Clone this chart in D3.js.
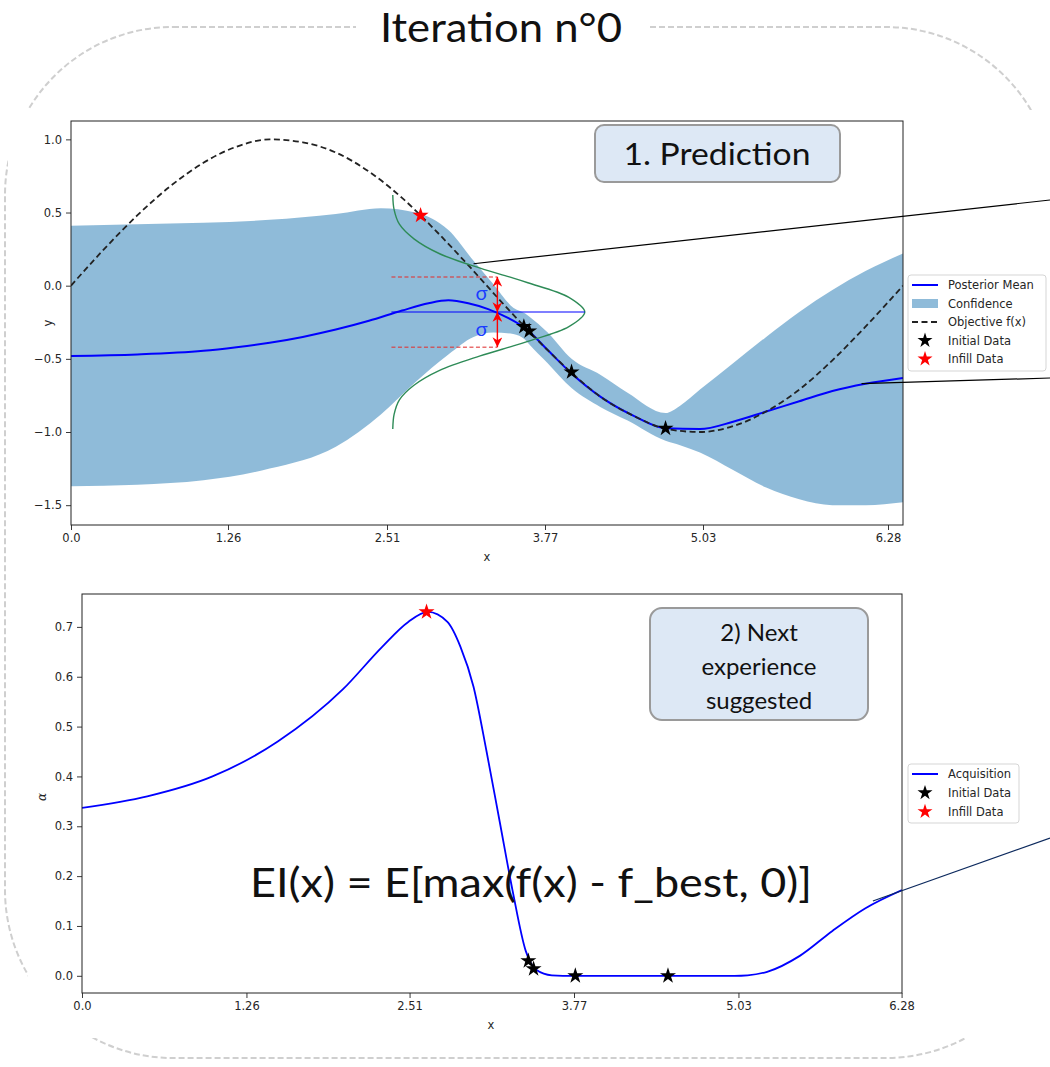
<!DOCTYPE html>
<html><head><meta charset="utf-8">
<script src="https://cdn.jsdelivr.net/npm/d3@7"></script>
<style>body{margin:0;background:#fff} svg{display:block}</style>
</head><body>
<svg id="c" width="1050" height="1067"></svg>
<script>
// ---------- data ----------
const xTicks = [0, 1.26, 2.51, 3.77, 5.03, 6.28];
const topTickPos = [71, 228, 387, 545, 703, 888]; // where the top plot's tick labels sit in the picture
const topYTicks = [1.0, 0.5, 0.0, -0.5, -1.0, -1.5];
const botYTicks = [0, 0.1, 0.2, 0.3, 0.4, 0.5, 0.6, 0.7];

const objX = [0, 0.25, 0.5, 0.75, 1.0, 1.25, 1.5, 1.75, 2.0, 2.25, 2.5, 2.75, 3.0, 3.25, 3.5, 3.75, 4.0, 4.25, 4.5, 4.75, 5.0, 5.25, 5.5, 5.75, 6.0, 6.283];
const objY = [0, 0.25, 0.48, 0.68, 0.84, 0.95, 1.0, 0.98, 0.91, 0.78, 0.60, 0.38, 0.14, -0.11, -0.35, -0.57, -0.76, -0.89, -0.98, -1.0, -0.96, -0.86, -0.71, -0.51, -0.28, 0.0];

const meanX = [0, 0.5, 1.0, 1.25, 1.5, 1.75, 2.0, 2.25, 2.5, 2.7, 2.85, 3.0, 3.15, 3.3, 3.43, 3.6, 3.78, 4.0, 4.25, 4.49, 4.75, 5.0, 5.25, 5.5, 5.75, 6.0, 6.283];
const meanY = [-0.48, -0.47, -0.445, -0.42, -0.39, -0.35, -0.30, -0.24, -0.17, -0.12, -0.10, -0.12, -0.16, -0.22, -0.29, -0.44, -0.60, -0.76, -0.89, -0.975, -0.98, -0.93, -0.86, -0.79, -0.72, -0.67, -0.63];

const bandX = [0, 0.5, 1.0, 1.5, 2.0, 2.34, 2.6, 2.85, 3.04, 3.19, 3.34, 3.43, 3.46, 3.6, 3.78, 4.0, 4.2, 4.49, 4.6, 4.75, 5.0, 5.25, 5.5, 5.75, 6.0, 6.283];
const bandUpper = [0.41, 0.42, 0.43, 0.45, 0.49, 0.53, 0.50, 0.38, 0.17, 0.01, -0.15, -0.19, -0.21, -0.32, -0.50, -0.61, -0.73, -0.87, -0.82, -0.71, -0.53, -0.35, -0.18, -0.03, 0.10, 0.22];
const bandLower = [-1.37, -1.36, -1.33, -1.25, -1.10, -0.88, -0.66, -0.47, -0.35, -0.32, -0.33, -0.37, -0.40, -0.53, -0.70, -0.83, -0.92, -1.06, -1.09, -1.14, -1.26, -1.38, -1.46, -1.50, -1.50, -1.48];

const initX = [3.42, 3.46, 3.78, 4.49];
const initY = [-0.28, -0.31, -0.59, -0.975];
const infillX = [2.64];
const infillY = [0.48];

const acqX = [0, 0.5, 1.0, 1.5, 2.0, 2.3, 2.5, 2.65, 2.8, 2.9, 3.0, 3.1, 3.2, 3.3, 3.4, 3.48, 3.6, 3.77, 4.5, 5.0, 5.1, 5.25, 5.5, 5.75, 6.0, 6.283];
const acqY = [0.337, 0.36, 0.40, 0.47, 0.575, 0.66, 0.71, 0.73, 0.71, 0.66, 0.58, 0.45, 0.31, 0.17, 0.05, 0.012, 0.001, 0, 0, 0, 0.001, 0.008, 0.04, 0.09, 0.135, 0.172];
const acqInitY = [0.03, 0.014, 0, 0];
const acqInfillY = [0.73];

// illustrated predictive distribution at one x
const gaussY = [0.62, 0.52, 0.42, 0.32, 0.22, 0.12, 0.06, 0.02, -0.08, -0.18, -0.28, -0.38, -0.42, -0.48, -0.58, -0.68, -0.78, -0.88, -0.98];
const gaussX = [2.43, 2.44, 2.48, 2.59, 2.78, 3.09, 3.31, 3.45, 3.76, 3.88, 3.76, 3.45, 3.31, 3.09, 2.78, 2.59, 2.48, 2.44, 2.43];
const sigmaMarks = {x0: 2.42, xArrow: 3.22, xEnd: 3.88, mean: -0.18, up: 0.06, down: -0.42};

const topLegend = ["Posterior Mean", "Confidence", "Objective f(x)", "Initial Data", "Infill Data"];
const botLegend = ["Acquisition", "Initial Data", "Infill Data"];

// ---------- drawing ----------
const svg = d3.select("#c");
const defs = svg.append("defs");
const FONT = "DejaVu Sans, sans-serif";
const CAL = "Lato, 'Open Sans', sans-serif";

// dashed rounded frame
svg.append("rect").attr("x", 5).attr("y", 27).attr("width", 1049).attr("height", 1031)
  .attr("rx", 168).attr("ry", 168).attr("fill", "none")
  .attr("stroke", "#cfcfcf").attr("stroke-width", 2).attr("stroke-dasharray", "6,3");
svg.append("rect").attr("x", 356).attr("y", 18).attr("width", 292).attr("height", 18).attr("fill", "#fff");
// plot "images" backgrounds
svg.append("rect").attr("x", 8).attr("y", 110).attr("width", 1042).attr("height", 466).attr("fill", "#fff");
svg.append("rect").attr("x", 28).attr("y", 580).attr("width", 1022).attr("height", 458).attr("fill", "#fff");

svg.append("text").attr("x", 501).attr("y", 42).attr("text-anchor", "middle")
  .attr("font-family", CAL).attr("font-size", 40).attr("fill", "#111")
  .attr("textLength", 242).attr("lengthAdjust", "spacingAndGlyphs").text("Iteration n°0");

function fmtY(d) { return (d < 0 ? "\u2212" : "") + Math.abs(d).toFixed(1); }
function fmtX(d) { return d === 0 ? "0.0" : String(d); }

function styleAxis(g) {
  g.select(".domain").remove();
  g.selectAll(".tick line").attr("stroke", "#222").attr("stroke-width", 0.9);
  g.selectAll(".tick text").attr("font-family", FONT).attr("font-size", 11.5).attr("fill", "#262626");
}

// ----- TOP PLOT -----
const xT = d3.scaleLinear().domain([0, 2 * Math.PI]).range([71, 903]);
const xTickT = d3.scaleLinear().domain(xTicks).range(topTickPos);
const yT = d3.scaleLinear().domain([-1.6355, 1.1255]).range([525, 121]);
defs.append("clipPath").attr("id", "clipT").append("rect")
  .attr("x", 71).attr("y", 121).attr("width", 832).attr("height", 404);

const gT = svg.append("g");
const plotT = gT.append("g").attr("clip-path", "url(#clipT)");

const area = d3.area().x((d, i) => xT(bandX[i])).y0((d, i) => yT(bandLower[i])).y1((d, i) => yT(bandUpper[i])).curve(d3.curveMonotoneX);
plotT.append("path").datum(bandX).attr("d", area).attr("fill", "#1f77b4").attr("fill-opacity", 0.5);

const lineMean = d3.line().x((d, i) => xT(meanX[i])).y((d, i) => yT(meanY[i])).curve(d3.curveMonotoneX);
plotT.append("path").datum(meanX).attr("d", lineMean).attr("fill", "none").attr("stroke", "#0000ff").attr("stroke-width", 2);

const lineObj = d3.line().x((d, i) => xT(objX[i])).y((d, i) => yT(objY[i])).curve(d3.curveMonotoneX);
plotT.append("path").datum(objX).attr("d", lineObj).attr("fill", "none").attr("stroke", "#222")
  .attr("stroke-width", 1.8).attr("stroke-dasharray", "6,3.5");

// predictive distribution illustration
const lineG = d3.line().x((d, i) => xT(gaussX[i])).y((d, i) => yT(gaussY[i])).curve(d3.curveCatmullRom);
plotT.append("path").datum(gaussX).attr("d", lineG).attr("fill", "none").attr("stroke", "#2e8b57").attr("stroke-width", 1.4);
plotT.append("line").attr("x1", xT(sigmaMarks.x0)).attr("x2", xT(sigmaMarks.xEnd))
  .attr("y1", yT(sigmaMarks.mean)).attr("y2", yT(sigmaMarks.mean))
  .attr("stroke", "#0000ff").attr("stroke-opacity", 0.5).attr("stroke-width", 2);
[sigmaMarks.up, sigmaMarks.down].forEach(v => {
  plotT.append("line").attr("x1", xT(sigmaMarks.x0)).attr("x2", xT(sigmaMarks.xArrow))
    .attr("y1", yT(v)).attr("y2", yT(v)).attr("stroke", "#e03030").attr("stroke-opacity", 0.7)
    .attr("stroke-width", 1.5).attr("stroke-dasharray", "4,2.5");
});
defs.append("marker").attr("id", "arr").attr("viewBox", "0 0 10 10").attr("refX", 10).attr("refY", 5)
  .attr("markerWidth", 7).attr("markerHeight", 7).attr("orient", "auto-start-reverse")
  .append("path").attr("d", "M0,0 L10,5 L0,10 L3,5 z").attr("fill", "red");
[[sigmaMarks.mean, sigmaMarks.up], [sigmaMarks.mean, sigmaMarks.down]].forEach(([a, b]) => {
  plotT.append("line").attr("x1", xT(sigmaMarks.xArrow)).attr("x2", xT(sigmaMarks.xArrow))
    .attr("y1", yT(a)).attr("y2", yT(b)).attr("stroke", "red").attr("stroke-width", 1.4)
    .attr("marker-start", "url(#arr)").attr("marker-end", "url(#arr)");
});
[(sigmaMarks.mean + sigmaMarks.up) / 2, (sigmaMarks.mean + sigmaMarks.down) / 2].forEach(v => {
  plotT.append("text").attr("x", xT(sigmaMarks.xArrow) - 16).attr("y", yT(v) + 6)
    .attr("text-anchor", "middle").attr("font-family", CAL).attr("font-size", 20).attr("fill", "#1a3cff").text("σ");
});

const star = d3.symbol().type(d3.symbolStar).size(80);
initX.forEach((x, i) => {
  plotT.append("path").attr("d", star).attr("transform", `translate(${xT(x)},${yT(initY[i])})`).attr("fill", "#000");
});
infillX.forEach((x, i) => {
  plotT.append("path").attr("d", star).attr("transform", `translate(${xT(x)},${yT(infillY[i])})`).attr("fill", "#ff0000");
});

gT.append("rect").attr("x", 71).attr("y", 121).attr("width", 832).attr("height", 404)
  .attr("fill", "none").attr("stroke", "#222").attr("stroke-width", 1);
gT.append("g").attr("transform", "translate(0,525)")
  .call(d3.axisBottom(xTickT).tickValues(xTicks).tickFormat(fmtX).tickSize(5).tickPadding(4)).call(styleAxis);
gT.append("g").attr("transform", "translate(71,0)")
  .call(d3.axisLeft(yT).tickValues(topYTicks).tickFormat(fmtY).tickSize(5).tickPadding(4)).call(styleAxis);
gT.append("text").attr("x", 487).attr("y", 561).attr("text-anchor", "middle").attr("font-family", FONT).attr("font-size", 11.5).attr("fill", "#262626").text("x");
gT.append("text").attr("transform", "translate(52,323) rotate(-90)").attr("text-anchor", "middle").attr("font-family", FONT).attr("font-size", 11.5).attr("fill", "#262626").text("y");

// top legend
const lgT = svg.append("g").attr("transform", "translate(908,275)");
lgT.append("rect").attr("width", 138).attr("height", 96).attr("rx", 3).attr("fill", "#fff").attr("stroke", "#d5d5d5");
const starL = d3.symbol().type(d3.symbolStar).size(70);
topLegend.forEach((t, i) => {
  const y = 10 + i * 18.5;
  if (i === 0) lgT.append("line").attr("x1", 4).attr("x2", 30).attr("y1", y).attr("y2", y).attr("stroke", "#0000ff").attr("stroke-width", 2);
  if (i === 1) lgT.append("rect").attr("x", 4).attr("y", y - 4.5).attr("width", 26).attr("height", 9).attr("fill", "#1f77b4").attr("fill-opacity", 0.5);
  if (i === 2) lgT.append("line").attr("x1", 4).attr("x2", 30).attr("y1", y).attr("y2", y).attr("stroke", "#222").attr("stroke-width", 1.8).attr("stroke-dasharray", "6,3.5");
  if (i === 3) lgT.append("path").attr("d", starL).attr("transform", `translate(17,${y})`).attr("fill", "#000");
  if (i === 4) lgT.append("path").attr("d", starL).attr("transform", `translate(17,${y})`).attr("fill", "#ff0000");
  lgT.append("text").attr("x", 40).attr("y", y + 4).attr("font-family", FONT).attr("font-size", 11.5).attr("fill", "#262626").text(t);
});

// "1. Prediction" callout
svg.append("rect").attr("x", 595).attr("y", 125).attr("width", 245).attr("height", 57).attr("rx", 9)
  .attr("fill", "#dde8f5").attr("stroke", "#9a9a9a").attr("stroke-width", 2);
svg.append("text").attr("x", 717).attr("y", 165).attr("text-anchor", "middle").attr("font-family", CAL)
  .attr("font-size", 30).attr("fill", "#111").attr("textLength", 187).attr("lengthAdjust", "spacingAndGlyphs").text("1. Prediction");

// ----- BOTTOM PLOT -----
const xB = d3.scaleLinear().domain([0, 2 * Math.PI]).range([82, 902]);
const yB = d3.scaleLinear().domain([-0.0345, 0.766]).range([993, 594]);
defs.append("clipPath").attr("id", "clipB").append("rect")
  .attr("x", 82).attr("y", 594).attr("width", 820).attr("height", 399);
const gB = svg.append("g");
const plotB = gB.append("g").attr("clip-path", "url(#clipB)");
const lineAcq = d3.line().x((d, i) => xB(acqX[i])).y((d, i) => yB(acqY[i])).curve(d3.curveMonotoneX);
plotB.append("path").datum(acqX).attr("d", lineAcq).attr("fill", "none").attr("stroke", "#0000ff").attr("stroke-width", 1.8);
initX.forEach((x, i) => {
  plotB.append("path").attr("d", star).attr("transform", `translate(${xB(x)},${yB(acqInitY[i])})`).attr("fill", "#000");
});
infillX.forEach((x, i) => {
  plotB.append("path").attr("d", star).attr("transform", `translate(${xB(x)},${yB(acqInfillY[i])})`).attr("fill", "#ff0000");
});
gB.append("rect").attr("x", 82).attr("y", 594).attr("width", 820).attr("height", 399)
  .attr("fill", "none").attr("stroke", "#222").attr("stroke-width", 1);
gB.append("g").attr("transform", "translate(0,993)")
  .call(d3.axisBottom(xB).tickValues(xTicks).tickFormat(fmtX).tickSize(5).tickPadding(4)).call(styleAxis);
gB.append("g").attr("transform", "translate(82,0)")
  .call(d3.axisLeft(yB).tickValues(botYTicks).tickFormat(d => d.toFixed(1)).tickSize(5).tickPadding(4)).call(styleAxis);
gB.append("text").attr("x", 491).attr("y", 1029).attr("text-anchor", "middle").attr("font-family", FONT).attr("font-size", 11.5).attr("fill", "#262626").text("x");
gB.append("text").attr("transform", "translate(46,797) rotate(-90)").attr("text-anchor", "middle").attr("font-family", "DejaVu Serif, serif").attr("font-style", "italic").attr("font-size", 12).attr("fill", "#262626").text("α");

const lgB = svg.append("g").attr("transform", "translate(908,764)");
lgB.append("rect").attr("width", 111).attr("height", 59).attr("rx", 3).attr("fill", "#fff").attr("stroke", "#d5d5d5");
botLegend.forEach((t, i) => {
  const y = 10 + i * 18.8;
  if (i === 0) lgB.append("line").attr("x1", 4).attr("x2", 30).attr("y1", y).attr("y2", y).attr("stroke", "#0000ff").attr("stroke-width", 2);
  if (i === 1) lgB.append("path").attr("d", starL).attr("transform", `translate(17,${y})`).attr("fill", "#000");
  if (i === 2) lgB.append("path").attr("d", starL).attr("transform", `translate(17,${y})`).attr("fill", "#ff0000");
  lgB.append("text").attr("x", 40).attr("y", y + 4).attr("font-family", FONT).attr("font-size", 11.5).attr("fill", "#262626").text(t);
});

// "2) Next experience suggested" callout
svg.append("rect").attr("x", 650).attr("y", 608).attr("width", 218).attr("height", 112).attr("rx", 12)
  .attr("fill", "#dde8f5").attr("stroke", "#9a9a9a").attr("stroke-width", 2);
["2) Next", "experience", "suggested"].forEach((t, i) => {
  svg.append("text").attr("x", 759).attr("y", 641 + i * 34).attr("text-anchor", "middle").attr("font-family", CAL)
    .attr("font-size", 24).attr("fill", "#111").text(t);
});

svg.append("text").attr("x", 531).attr("y", 897).attr("text-anchor", "middle").attr("font-family", CAL)
  .attr("font-size", 40).attr("fill", "#111").attr("textLength", 562).attr("lengthAdjust", "spacingAndGlyphs")
  .text("EI(x) = E[max(f(x) - f_best, 0)]");

// connector lines toward the right edge
svg.append("line").attr("x1", xT(3.04)).attr("y1", yT(0.15)).attr("x2", 1050).attr("y2", 200).attr("stroke", "#000").attr("stroke-width", 1.2);
svg.append("line").attr("x1", xT(5.97)).attr("y1", yT(-0.67)).attr("x2", 1050).attr("y2", 378).attr("stroke", "#000").attr("stroke-width", 1.2);
svg.append("line").attr("x1", xB(6.06)).attr("y1", yB(0.15)).attr("x2", 1050).attr("y2", 838).attr("stroke", "#0d2a5e").attr("stroke-width", 1.2);
</script>
</body></html>
